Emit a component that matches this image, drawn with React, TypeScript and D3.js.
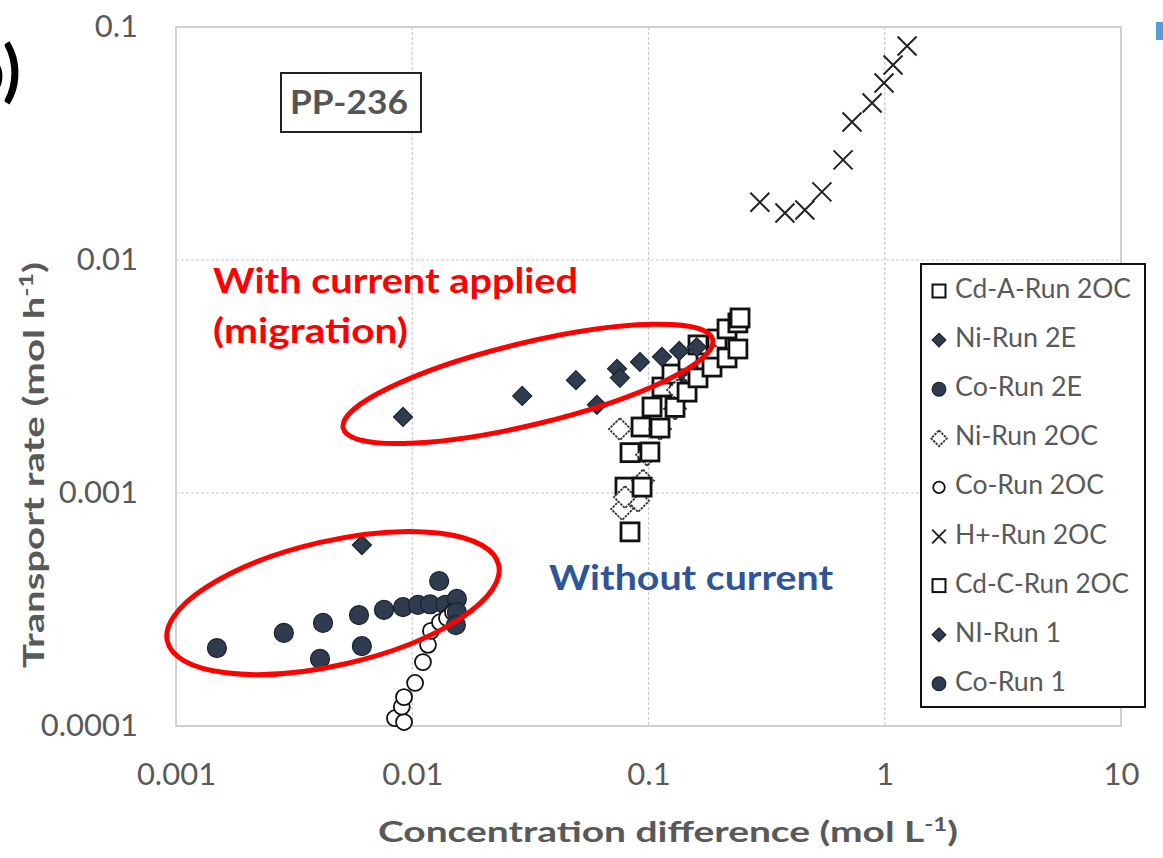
import React, { useEffect, useRef } from 'react';
import * as d3 from 'd3';

// tick values
const xTicks = [0.001, 0.01, 0.1, 1, 10];
const yTicks = [0.0001, 0.001, 0.01, 0.1];

// series: [concentration difference, transport rate]
const cdARun2OC: [number, number][] = [
  [0.0795, 0.00106], [0.0835, 0.00149], [0.093, 0.00192], [0.1035, 0.00234],
  [0.114, 0.00285], [0.1257, 0.00324], [0.147, 0.00369], [0.162, 0.00432],
  [0.195, 0.00458], [0.215, 0.00506], [0.239, 0.00537], [0.244, 0.00564],
];
const niRun2E: [number, number][] = [
  [0.00914, 0.00212], [0.0292, 0.00261], [0.0493, 0.00305], [0.0605, 0.00239],
  [0.0736, 0.00341], [0.0757, 0.00312], [0.092, 0.00365], [0.114, 0.00384],
  [0.135, 0.00407], [0.147, 0.00315], [0.16, 0.00423],
];
const coRun2E: [number, number][] = [
  [0.00286, 0.000251], [0.00419, 0.000277], [0.00595, 0.000299], [0.00759, 0.000315],
  [0.00914, 0.000324], [0.01057, 0.000331], [0.0119, 0.000333], [0.0138, 0.000331],
  [0.01545, 0.000351],
];
const niRun2OC: [number, number][] = [
  [0.0757, 0.00188], [0.1119, 0.00188], [0.0986, 0.00146], [0.0948, 0.00113],
  [0.0903, 0.000924], [0.0773, 0.000854], [0.0795, 0.00096], [0.1295, 0.0023],
  [0.1334, 0.00277], [0.157, 0.00312], [0.191, 0.00387],
];
const coRun2OC: [number, number][] = [
  [0.00845, 0.000108], [0.00923, 0.000104], [0.00903, 0.000121], [0.00923, 0.000133],
  [0.01028, 0.000153], [0.0111, 0.000188], [0.01166, 0.000223], [0.012, 0.000256],
  [0.0131, 0.000279], [0.01403, 0.000291], [0.01487, 0.000308],
];
const hRun2OC: [number, number][] = [
  [0.296, 0.0177], [0.378, 0.0159], [0.459, 0.0164], [0.542, 0.0196],
  [0.666, 0.0269], [0.727, 0.0391], [0.884, 0.0472], [0.993, 0.0575],
  [1.084, 0.0687], [1.243, 0.0829],
];
const cdCRun2OC: [number, number][] = [
  [0.0835, 0.000681], [0.0939, 0.00106], [0.1014, 0.0015], [0.1119, 0.0019],
  [0.1295, 0.00233], [0.1456, 0.00271], [0.162, 0.00312], [0.1857, 0.00347],
  [0.215, 0.0038], [0.239, 0.00415],
];
const niRun1: [number, number][] = [[0.00612, 0.000598]];
const coRun1: [number, number][] = [
  [0.00149, 0.000216], [0.00407, 0.000194], [0.00612, 0.00022], [0.013, 0.000419],
  [0.01545, 0.000308], [0.0153, 0.000271],
];

type Marker = 'square' | 'diamond' | 'circle' | 'odiamond' | 'ocircle' | 'x';
const seriesNames = [
  'Cd-A-Run 2OC', 'Ni-Run 2E', 'Co-Run 2E', 'Ni-Run 2OC', 'Co-Run 2OC',
  'H+-Run 2OC', 'Cd-C-Run 2OC', 'NI-Run 1', 'Co-Run 1',
];
// rendered width of each legend label in the original (px)
const legendWidths = [176, 121, 127, 143, 149, 152, 174, 106, 111];
const seriesData = [cdARun2OC, niRun2E, coRun2E, niRun2OC, coRun2OC, hRun2OC, cdCRun2OC, niRun1, coRun1];
const seriesMarkers: Marker[] = ['square', 'diamond', 'circle', 'odiamond', 'ocircle', 'x', 'square', 'diamond', 'circle'];

// annotation ellipses: centre in data units, radii in px, tilt in degrees
const ellipses = [
  { cx: 0.0309, cy: 0.00294, rx: 190, ry: 41, angle: -13.5 },
  { cx: 0.00462, cy: 0.000337, rx: 170, ry: 62, angle: -13 },
];

const DARK = '#2f3b4e';

function drawMarker(g: d3.Selection<SVGGElement, unknown, null, undefined>, m: Marker, x: number, y: number, s = 1) {
  if (m === 'square') {
    const a = 18 * s;
    g.append('rect').attr('x', x - a / 2).attr('y', y - a / 2).attr('width', a).attr('height', a)
      .attr('fill', '#fff').attr('stroke', '#111').attr('stroke-width', 2.8 * s);
  } else if (m === 'diamond') {
    const a = 9.5 * s;
    g.append('path').attr('d', `M${x},${y - a}L${x + a},${y}L${x},${y + a}L${x - a},${y}Z`)
      .attr('fill', DARK).attr('stroke', '#1a2230').attr('stroke-width', 1.2);
  } else if (m === 'circle') {
    g.append('circle').attr('cx', x).attr('cy', y).attr('r', 9.5 * s)
      .attr('fill', DARK).attr('stroke', '#1a2230').attr('stroke-width', 1.2);
  } else if (m === 'odiamond') {
    const a = 11 * s;
    g.append('path').attr('d', `M${x},${y - a}L${x + a},${y}L${x},${y + a}L${x - a},${y}Z`)
      .attr('fill', '#fff').attr('stroke', '#333').attr('stroke-width', 1.8)
      .attr('stroke-dasharray', '2.5,1');
  } else if (m === 'ocircle') {
    g.append('circle').attr('cx', x).attr('cy', y).attr('r', 8 * s)
      .attr('fill', '#fff').attr('stroke', '#111').attr('stroke-width', 1.8);
  } else {
    const a = 9.5 * s;
    g.append('path').attr('d', `M${x - a},${y - a}L${x + a},${y + a}M${x + a},${y - a}L${x - a},${y + a}`)
      .attr('stroke', '#222').attr('stroke-width', 2).attr('fill', 'none');
  }
}

export default function App() {
  const svgRef = useRef<SVGSVGElement | null>(null);

  useEffect(() => {
    if (!svgRef.current) return;
    const svg = d3.select(svgRef.current);
    svg.selectAll('*').remove();

    const left = 176, right = 1121, top = 27, bottom = 726;
    const x = d3.scaleLog().domain([0.001, 10]).range([left, right]);
    const y = d3.scaleLog().domain([0.0001, 0.1]).range([bottom, top]);

    const font = 'Lato, "Open Sans", sans-serif';

    // grid (dashed)
    const grid = svg.append('g');
    xTicks.slice(1, -1).forEach(t => {
      grid.append('line').attr('x1', x(t)).attr('x2', x(t)).attr('y1', top).attr('y2', bottom)
        .attr('stroke', '#c8c8c8').attr('stroke-width', 1.2).attr('stroke-dasharray', '3,2');
    });
    yTicks.slice(1, -1).forEach(t => {
      grid.append('line').attr('x1', left).attr('x2', right).attr('y1', y(t)).attr('y2', y(t))
        .attr('stroke', '#c8c8c8').attr('stroke-width', 1.2).attr('stroke-dasharray', '3,2');
    });
    // plot frame
    svg.append('rect').attr('x', left).attr('y', top).attr('width', right - left).attr('height', bottom - top)
      .attr('fill', 'none').attr('stroke', '#d0d0d0').attr('stroke-width', 2);

    // tick labels
    const fmt = (d: number) => String(d);
    const xAxis = d3.axisBottom(x).tickValues(xTicks).tickFormat(d => fmt(+d)).tickSize(0).tickPadding(37);
    const gx = svg.append('g').attr('transform', `translate(0,${bottom})`).call(xAxis);
    gx.select('.domain').remove();
    gx.selectAll('text').attr('fill', '#595959').style('font-size', '31px').style('font-family', font);

    const yAxis = d3.axisLeft(y).tickValues(yTicks).tickFormat(d => fmt(+d)).tickSize(0).tickPadding(38);
    const gy = svg.append('g').attr('transform', `translate(${left},0)`).call(yAxis);
    gy.select('.domain').remove();
    gy.selectAll('text').attr('fill', '#595959').style('font-size', '31px').style('font-family', font);

    // axis titles
    const xt = svg.append('text').attr('x', 668).attr('y', 842).attr('text-anchor', 'middle')
      .attr('textLength', 580).attr('lengthAdjust', 'spacingAndGlyphs')
      .attr('fill', '#595959').style('font-size', '29px').style('font-weight', 700).style('font-family', font);
    xt.append('tspan').text('Concentration difference (mol L');
    xt.append('tspan').text('-1').attr('dy', -11).style('font-size', '18px');
    xt.append('tspan').text(')').attr('dy', 11);

    const yt = svg.append('text').attr('transform', 'translate(44,465) rotate(-90)').attr('text-anchor', 'middle')
      .attr('textLength', 406).attr('lengthAdjust', 'spacingAndGlyphs')
      .attr('fill', '#595959').style('font-size', '29px').style('font-weight', 700).style('font-family', font);
    yt.append('tspan').text('Transport rate (mol h');
    yt.append('tspan').text('-1').attr('dy', -11).style('font-size', '18px');
    yt.append('tspan').text(')').attr('dy', 11);

    // data
    const pts = svg.append('g');
    seriesData.forEach((data, i) => {
      data.forEach(([dx, dy]) => drawMarker(pts, seriesMarkers[i], x(dx), y(dy)));
    });

    // ellipses
    ellipses.forEach(e => {
      svg.append('ellipse')
        .attr('transform', `translate(${x(e.cx)},${y(e.cy)}) rotate(${e.angle})`)
        .attr('rx', e.rx).attr('ry', e.ry)
        .attr('fill', 'none').attr('stroke', '#ff0000').attr('stroke-width', 5);
    });

    // annotations
    const note = (tx: number, ty: number, s: string, w: number, color: string) =>
      svg.append('text').attr('x', tx).attr('y', ty).text(s)
        .attr('textLength', w).attr('lengthAdjust', 'spacingAndGlyphs')
        .attr('fill', color).style('font-size', '34px').style('font-weight', 700).style('font-family', font);
    note(213, 293, 'With current applied', 365, '#ff0000');
    note(213, 343, '(migration)', 195, '#ff0000');
    note(549, 590, 'Without current', 284, '#2f5597');

    // PP-236 box
    svg.append('rect').attr('x', 281).attr('y', 73).attr('width', 140).attr('height', 59)
      .attr('fill', '#fff').attr('stroke', '#222').attr('stroke-width', 2);
    svg.append('text').attr('x', 290).attr('y', 114).text('PP-236')
      .attr('textLength', 118).attr('lengthAdjust', 'spacingAndGlyphs')
      .attr('fill', '#555').style('font-size', '33px').style('font-weight', 700).style('font-family', font);

    // legend
    const lg = svg.append('g');
    lg.append('rect').attr('x', 921).attr('y', 264).attr('width', 224).attr('height', 443)
      .attr('fill', '#fff').attr('stroke', '#111').attr('stroke-width', 2);
    seriesNames.forEach((name, i) => {
      const ly = 289 + i * 49.1;
      drawMarker(lg, seriesMarkers[i], 939, ly + 2, 0.72);
      lg.append('text').attr('x', 955).attr('y', ly + 9).text(name)
        .attr('textLength', legendWidths[i]).attr('lengthAdjust', 'spacingAndGlyphs')
        .attr('fill', '#595959').style('font-size', '27px').style('font-family', font);
    });

    // panel label fragment (cut at the left edge, as in the original figure)
    svg.append('text').attr('x', 21).attr('y', 94).attr('text-anchor', 'end').text('b)')
      .attr('fill', '#000').style('font-size', '66px').style('font-weight', 700).style('font-family', font);
    svg.append('rect').attr('x', 1156).attr('y', 22).attr('width', 7).attr('height', 18).attr('fill', '#5b9bd5');
  }, []);

  return (
    <div style={{ position: 'absolute', left: 0, top: 0 }}>
      <svg ref={svgRef} width={1163} height={858} style={{ display: 'block', background: '#fff' }} />
    </div>
  );
}
